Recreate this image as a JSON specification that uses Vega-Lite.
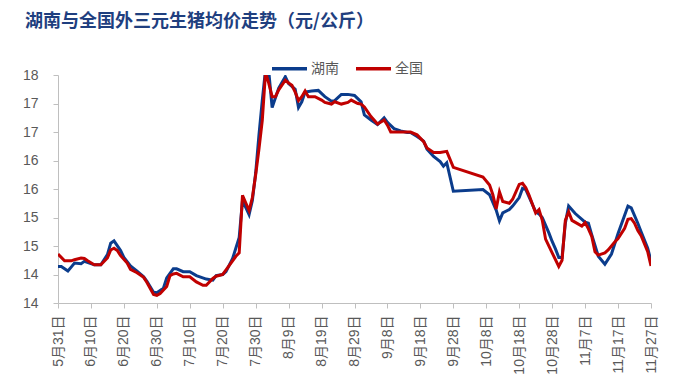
{
  "$schema": "https://vega.github.io/schema/vega-lite/v6.json",
  "width": 593,
  "height": 228,
  "autosize": "none",
  "padding": {"left": 58, "top": 75, "right": 26, "bottom": 87},
  "background": "white",
  "title": {
    "text": "湖南与全国外三元生猪均价走势（元/公斤）",
    "anchor": "start",
    "frame": "group",
    "dx": -33,
    "offset": 0,
    "baseline": "bottom",
    "font": "Noto Sans CJK SC",
    "fontSize": 18,
    "fontWeight": "bold",
    "color": "#1F3F7F"
  },
  "config": {"view": {"stroke": null}},
  "data": {
    "values": [
      {"date": "2023-05-31", "region": "湖南", "price": 14.64},
      {"date": "2023-06-01", "region": "湖南", "price": 14.64},
      {"date": "2023-06-03", "region": "湖南", "price": 14.56},
      {"date": "2023-06-04", "region": "湖南", "price": 14.63},
      {"date": "2023-06-05", "region": "湖南", "price": 14.70},
      {"date": "2023-06-07", "region": "湖南", "price": 14.69},
      {"date": "2023-06-08", "region": "湖南", "price": 14.73},
      {"date": "2023-06-10", "region": "湖南", "price": 14.69},
      {"date": "2023-06-11", "region": "湖南", "price": 14.67},
      {"date": "2023-06-13", "region": "湖南", "price": 14.67},
      {"date": "2023-06-15", "region": "湖南", "price": 14.85},
      {"date": "2023-06-16", "region": "湖南", "price": 15.05},
      {"date": "2023-06-17", "region": "湖南", "price": 15.09},
      {"date": "2023-06-19", "region": "湖南", "price": 14.92},
      {"date": "2023-06-20", "region": "湖南", "price": 14.80},
      {"date": "2023-06-22", "region": "湖南", "price": 14.65},
      {"date": "2023-06-24", "region": "湖南", "price": 14.56},
      {"date": "2023-06-26", "region": "湖南", "price": 14.46},
      {"date": "2023-06-27", "region": "湖南", "price": 14.38},
      {"date": "2023-06-29", "region": "湖南", "price": 14.19},
      {"date": "2023-06-30", "region": "湖南", "price": 14.18},
      {"date": "2023-07-02", "region": "湖南", "price": 14.26},
      {"date": "2023-07-03", "region": "湖南", "price": 14.44},
      {"date": "2023-07-05", "region": "湖南", "price": 14.60},
      {"date": "2023-07-06", "region": "湖南", "price": 14.60},
      {"date": "2023-07-08", "region": "湖南", "price": 14.55},
      {"date": "2023-07-10", "region": "湖南", "price": 14.55},
      {"date": "2023-07-12", "region": "湖南", "price": 14.48},
      {"date": "2023-07-15", "region": "湖南", "price": 14.42},
      {"date": "2023-07-17", "region": "湖南", "price": 14.40},
      {"date": "2023-07-18", "region": "湖南", "price": 14.48},
      {"date": "2023-07-20", "region": "湖南", "price": 14.50},
      {"date": "2023-07-21", "region": "湖南", "price": 14.55},
      {"date": "2023-07-23", "region": "湖南", "price": 14.78},
      {"date": "2023-07-25", "region": "湖南", "price": 15.15},
      {"date": "2023-07-26", "region": "湖南", "price": 15.80},
      {"date": "2023-07-28", "region": "湖南", "price": 15.55},
      {"date": "2023-07-29", "region": "湖南", "price": 15.80},
      {"date": "2023-07-30", "region": "湖南", "price": 16.28},
      {"date": "2023-07-31", "region": "湖南", "price": 16.95},
      {"date": "2023-08-01", "region": "湖南", "price": 17.55},
      {"date": "2023-08-02", "region": "湖南", "price": 18.10},
      {"date": "2023-08-03", "region": "湖南", "price": 18.05},
      {"date": "2023-08-04", "region": "湖南", "price": 17.43},
      {"date": "2023-08-06", "region": "湖南", "price": 17.77},
      {"date": "2023-08-08", "region": "湖南", "price": 17.97},
      {"date": "2023-08-09", "region": "湖南", "price": 17.85},
      {"date": "2023-08-10", "region": "湖南", "price": 17.80},
      {"date": "2023-08-11", "region": "湖南", "price": 17.75},
      {"date": "2023-08-12", "region": "湖南", "price": 17.43},
      {"date": "2023-08-13", "region": "湖南", "price": 17.53},
      {"date": "2023-08-14", "region": "湖南", "price": 17.70},
      {"date": "2023-08-16", "region": "湖南", "price": 17.72},
      {"date": "2023-08-18", "region": "湖南", "price": 17.73},
      {"date": "2023-08-20", "region": "湖南", "price": 17.62},
      {"date": "2023-08-22", "region": "湖南", "price": 17.54},
      {"date": "2023-08-23", "region": "湖南", "price": 17.55},
      {"date": "2023-08-25", "region": "湖南", "price": 17.66},
      {"date": "2023-08-27", "region": "湖南", "price": 17.66},
      {"date": "2023-08-29", "region": "湖南", "price": 17.64},
      {"date": "2023-08-31", "region": "湖南", "price": 17.53},
      {"date": "2023-09-01", "region": "湖南", "price": 17.30},
      {"date": "2023-09-03", "region": "湖南", "price": 17.21},
      {"date": "2023-09-05", "region": "湖南", "price": 17.13},
      {"date": "2023-09-07", "region": "湖南", "price": 17.25},
      {"date": "2023-09-08", "region": "湖南", "price": 17.17},
      {"date": "2023-09-10", "region": "湖南", "price": 17.06},
      {"date": "2023-09-12", "region": "湖南", "price": 17.02},
      {"date": "2023-09-14", "region": "湖南", "price": 16.99},
      {"date": "2023-09-15", "region": "湖南", "price": 16.99},
      {"date": "2023-09-17", "region": "湖南", "price": 16.92},
      {"date": "2023-09-19", "region": "湖南", "price": 16.84},
      {"date": "2023-09-20", "region": "湖南", "price": 16.70},
      {"date": "2023-09-22", "region": "湖南", "price": 16.57},
      {"date": "2023-09-24", "region": "湖南", "price": 16.48},
      {"date": "2023-09-25", "region": "湖南", "price": 16.40},
      {"date": "2023-09-26", "region": "湖南", "price": 16.46},
      {"date": "2023-09-28", "region": "湖南", "price": 15.96},
      {"date": "2023-10-07", "region": "湖南", "price": 15.99},
      {"date": "2023-10-09", "region": "湖南", "price": 15.90},
      {"date": "2023-10-11", "region": "湖南", "price": 15.63},
      {"date": "2023-10-12", "region": "湖南", "price": 15.44},
      {"date": "2023-10-13", "region": "湖南", "price": 15.58},
      {"date": "2023-10-15", "region": "湖南", "price": 15.64},
      {"date": "2023-10-16", "region": "湖南", "price": 15.70},
      {"date": "2023-10-18", "region": "湖南", "price": 15.85},
      {"date": "2023-10-19", "region": "湖南", "price": 16.01},
      {"date": "2023-10-20", "region": "湖南", "price": 15.99},
      {"date": "2023-10-23", "region": "湖南", "price": 15.60},
      {"date": "2023-10-24", "region": "湖南", "price": 15.56},
      {"date": "2023-10-25", "region": "湖南", "price": 15.50},
      {"date": "2023-10-27", "region": "湖南", "price": 15.23},
      {"date": "2023-10-28", "region": "湖南", "price": 15.08},
      {"date": "2023-10-29", "region": "湖南", "price": 14.95},
      {"date": "2023-10-30", "region": "湖南", "price": 14.80},
      {"date": "2023-10-31", "region": "湖南", "price": 14.80},
      {"date": "2023-11-01", "region": "湖南", "price": 15.40},
      {"date": "2023-11-02", "region": "湖南", "price": 15.70},
      {"date": "2023-11-04", "region": "湖南", "price": 15.57},
      {"date": "2023-11-07", "region": "湖南", "price": 15.42},
      {"date": "2023-11-08", "region": "湖南", "price": 15.40},
      {"date": "2023-11-09", "region": "湖南", "price": 15.20},
      {"date": "2023-11-11", "region": "湖南", "price": 14.82},
      {"date": "2023-11-13", "region": "湖南", "price": 14.68},
      {"date": "2023-11-15", "region": "湖南", "price": 14.86},
      {"date": "2023-11-17", "region": "湖南", "price": 15.22},
      {"date": "2023-11-19", "region": "湖南", "price": 15.54},
      {"date": "2023-11-20", "region": "湖南", "price": 15.70},
      {"date": "2023-11-21", "region": "湖南", "price": 15.67},
      {"date": "2023-11-23", "region": "湖南", "price": 15.40},
      {"date": "2023-11-24", "region": "湖南", "price": 15.25},
      {"date": "2023-11-26", "region": "湖南", "price": 14.96},
      {"date": "2023-11-27", "region": "湖南", "price": 14.74},
      {"date": "2023-05-31", "region": "全国", "price": 14.86},
      {"date": "2023-06-02", "region": "全国", "price": 14.74},
      {"date": "2023-06-04", "region": "全国", "price": 14.74},
      {"date": "2023-06-05", "region": "全国", "price": 14.76},
      {"date": "2023-06-07", "region": "全国", "price": 14.79},
      {"date": "2023-06-08", "region": "全国", "price": 14.78},
      {"date": "2023-06-09", "region": "全国", "price": 14.74},
      {"date": "2023-06-11", "region": "全国", "price": 14.67},
      {"date": "2023-06-13", "region": "全国", "price": 14.67},
      {"date": "2023-06-15", "region": "全国", "price": 14.79},
      {"date": "2023-06-16", "region": "全国", "price": 14.93},
      {"date": "2023-06-17", "region": "全国", "price": 14.96},
      {"date": "2023-06-18", "region": "全国", "price": 14.92},
      {"date": "2023-06-19", "region": "全国", "price": 14.83},
      {"date": "2023-06-21", "region": "全国", "price": 14.70},
      {"date": "2023-06-22", "region": "全国", "price": 14.59},
      {"date": "2023-06-24", "region": "全国", "price": 14.53},
      {"date": "2023-06-26", "region": "全国", "price": 14.45},
      {"date": "2023-06-27", "region": "全国", "price": 14.36},
      {"date": "2023-06-29", "region": "全国", "price": 14.15},
      {"date": "2023-06-30", "region": "全国", "price": 14.135},
      {"date": "2023-07-01", "region": "全国", "price": 14.165},
      {"date": "2023-07-03", "region": "全国", "price": 14.29},
      {"date": "2023-07-04", "region": "全国", "price": 14.48},
      {"date": "2023-07-05", "region": "全国", "price": 14.51},
      {"date": "2023-07-06", "region": "全国", "price": 14.52},
      {"date": "2023-07-08", "region": "全国", "price": 14.46},
      {"date": "2023-07-10", "region": "全国", "price": 14.46},
      {"date": "2023-07-12", "region": "全国", "price": 14.37},
      {"date": "2023-07-14", "region": "全国", "price": 14.31},
      {"date": "2023-07-15", "region": "全国", "price": 14.31},
      {"date": "2023-07-17", "region": "全国", "price": 14.43},
      {"date": "2023-07-18", "region": "全国", "price": 14.47},
      {"date": "2023-07-20", "region": "全国", "price": 14.50},
      {"date": "2023-07-22", "region": "全国", "price": 14.66},
      {"date": "2023-07-24", "region": "全国", "price": 14.82},
      {"date": "2023-07-25", "region": "全国", "price": 14.88},
      {"date": "2023-07-26", "region": "全国", "price": 15.89},
      {"date": "2023-07-28", "region": "全国", "price": 15.62},
      {"date": "2023-07-29", "region": "全国", "price": 15.85},
      {"date": "2023-07-30", "region": "全国", "price": 16.25},
      {"date": "2023-07-31", "region": "全国", "price": 16.70},
      {"date": "2023-08-01", "region": "全国", "price": 17.20},
      {"date": "2023-08-02", "region": "全国", "price": 18.05},
      {"date": "2023-08-03", "region": "全国", "price": 17.85},
      {"date": "2023-08-04", "region": "全国", "price": 17.62},
      {"date": "2023-08-05", "region": "全国", "price": 17.62},
      {"date": "2023-08-06", "region": "全国", "price": 17.74},
      {"date": "2023-08-08", "region": "全国", "price": 17.91},
      {"date": "2023-08-09", "region": "全国", "price": 17.86},
      {"date": "2023-08-10", "region": "全国", "price": 17.82},
      {"date": "2023-08-11", "region": "全国", "price": 17.70},
      {"date": "2023-08-12", "region": "全国", "price": 17.55},
      {"date": "2023-08-13", "region": "全国", "price": 17.62},
      {"date": "2023-08-14", "region": "全国", "price": 17.72},
      {"date": "2023-08-15", "region": "全国", "price": 17.62},
      {"date": "2023-08-17", "region": "全国", "price": 17.62},
      {"date": "2023-08-19", "region": "全国", "price": 17.56},
      {"date": "2023-08-20", "region": "全国", "price": 17.52},
      {"date": "2023-08-22", "region": "全国", "price": 17.49},
      {"date": "2023-08-23", "region": "全国", "price": 17.53},
      {"date": "2023-08-25", "region": "全国", "price": 17.49},
      {"date": "2023-08-27", "region": "全国", "price": 17.52},
      {"date": "2023-08-28", "region": "全国", "price": 17.56},
      {"date": "2023-08-30", "region": "全国", "price": 17.50},
      {"date": "2023-08-31", "region": "全国", "price": 17.49},
      {"date": "2023-09-01", "region": "全国", "price": 17.44},
      {"date": "2023-09-03", "region": "全国", "price": 17.27},
      {"date": "2023-09-05", "region": "全国", "price": 17.14},
      {"date": "2023-09-07", "region": "全国", "price": 17.21},
      {"date": "2023-09-08", "region": "全国", "price": 17.12},
      {"date": "2023-09-09", "region": "全国", "price": 17.00},
      {"date": "2023-09-12", "region": "全国", "price": 17.00},
      {"date": "2023-09-15", "region": "全国", "price": 17.00},
      {"date": "2023-09-17", "region": "全国", "price": 16.95},
      {"date": "2023-09-19", "region": "全国", "price": 16.83},
      {"date": "2023-09-20", "region": "全国", "price": 16.72},
      {"date": "2023-09-22", "region": "全国", "price": 16.64},
      {"date": "2023-09-24", "region": "全国", "price": 16.64},
      {"date": "2023-09-26", "region": "全国", "price": 16.66},
      {"date": "2023-09-28", "region": "全国", "price": 16.38},
      {"date": "2023-10-07", "region": "全国", "price": 16.21},
      {"date": "2023-10-09", "region": "全国", "price": 16.07},
      {"date": "2023-10-10", "region": "全国", "price": 15.90},
      {"date": "2023-10-11", "region": "全国", "price": 15.65},
      {"date": "2023-10-12", "region": "全国", "price": 15.95},
      {"date": "2023-10-13", "region": "全国", "price": 15.78},
      {"date": "2023-10-15", "region": "全国", "price": 15.75},
      {"date": "2023-10-16", "region": "全国", "price": 15.82},
      {"date": "2023-10-18", "region": "全国", "price": 16.08},
      {"date": "2023-10-19", "region": "全国", "price": 16.10},
      {"date": "2023-10-20", "region": "全国", "price": 16.02},
      {"date": "2023-10-21", "region": "全国", "price": 15.89},
      {"date": "2023-10-23", "region": "全国", "price": 15.58},
      {"date": "2023-10-24", "region": "全国", "price": 15.64},
      {"date": "2023-10-25", "region": "全国", "price": 15.45},
      {"date": "2023-10-26", "region": "全国", "price": 15.12},
      {"date": "2023-10-28", "region": "全国", "price": 14.88},
      {"date": "2023-10-30", "region": "全国", "price": 14.64},
      {"date": "2023-10-31", "region": "全国", "price": 14.75},
      {"date": "2023-11-01", "region": "全国", "price": 15.45},
      {"date": "2023-11-02", "region": "全国", "price": 15.60},
      {"date": "2023-11-03", "region": "全国", "price": 15.45},
      {"date": "2023-11-06", "region": "全国", "price": 15.35},
      {"date": "2023-11-07", "region": "全国", "price": 15.41},
      {"date": "2023-11-08", "region": "全国", "price": 15.30},
      {"date": "2023-11-09", "region": "全国", "price": 15.17},
      {"date": "2023-11-10", "region": "全国", "price": 14.90},
      {"date": "2023-11-11", "region": "全国", "price": 14.84},
      {"date": "2023-11-13", "region": "全国", "price": 14.88},
      {"date": "2023-11-14", "region": "全国", "price": 14.93},
      {"date": "2023-11-16", "region": "全国", "price": 15.07},
      {"date": "2023-11-17", "region": "全国", "price": 15.13},
      {"date": "2023-11-19", "region": "全国", "price": 15.31},
      {"date": "2023-11-20", "region": "全国", "price": 15.47},
      {"date": "2023-11-21", "region": "全国", "price": 15.48},
      {"date": "2023-11-22", "region": "全国", "price": 15.40},
      {"date": "2023-11-23", "region": "全国", "price": 15.27},
      {"date": "2023-11-24", "region": "全国", "price": 15.18},
      {"date": "2023-11-26", "region": "全国", "price": 14.90},
      {"date": "2023-11-27", "region": "全国", "price": 14.65}
    ]
  },
  "mark": {"type": "line", "strokeWidth": 3, "clip": true},
  "encoding": {
    "x": {
      "field": "date",
      "type": "temporal",
      "scale": {
        "type": "utc",
        "domain": [
          {"year": 2023, "month": 5, "date": 31, "utc": true},
          {"year": 2023, "month": 11, "date": 27, "utc": true}
        ]
      },
      "axis": {
        "title": null,
        "grid": false,
        "values": [
          {"year": 2023, "month": 5, "date": 31, "utc": true},
          {"year": 2023, "month": 6, "date": 10, "utc": true},
          {"year": 2023, "month": 6, "date": 20, "utc": true},
          {"year": 2023, "month": 6, "date": 30, "utc": true},
          {"year": 2023, "month": 7, "date": 10, "utc": true},
          {"year": 2023, "month": 7, "date": 20, "utc": true},
          {"year": 2023, "month": 7, "date": 30, "utc": true},
          {"year": 2023, "month": 8, "date": 9, "utc": true},
          {"year": 2023, "month": 8, "date": 19, "utc": true},
          {"year": 2023, "month": 8, "date": 29, "utc": true},
          {"year": 2023, "month": 9, "date": 8, "utc": true},
          {"year": 2023, "month": 9, "date": 18, "utc": true},
          {"year": 2023, "month": 9, "date": 28, "utc": true},
          {"year": 2023, "month": 10, "date": 8, "utc": true},
          {"year": 2023, "month": 10, "date": 18, "utc": true},
          {"year": 2023, "month": 10, "date": 28, "utc": true},
          {"year": 2023, "month": 11, "date": 7, "utc": true},
          {"year": 2023, "month": 11, "date": 17, "utc": true},
          {"year": 2023, "month": 11, "date": 27, "utc": true}
        ],
        "labelExpr": "utcFormat(datum.value, '%-m月%-d日')",
        "labelAngle": -90,
        "labelFont": "Liberation Sans, Noto Sans CJK SC",
        "labelFontSize": 14,
        "labelColor": "#595959",
        "labelPadding": 7,
        "labelOverlap": false,
        "domainColor": "#BFBFBF",
        "tickColor": "#BFBFBF",
        "tickSize": 5
      }
    },
    "y": {
      "field": "price",
      "type": "quantitative",
      "scale": {"domain": [14, 18], "nice": false, "zero": false},
      "axis": {
        "title": null,
        "grid": false,
        "values": [14, 14.5, 15, 15.5, 16, 16.5, 17, 17.5, 18],
        "labelExpr": "floor(datum.value)",
        "labelFont": "Liberation Sans",
        "labelFontSize": 14,
        "labelColor": "#595959",
        "labelPadding": 15,
        "domainColor": "#BFBFBF",
        "tickColor": "#BFBFBF",
        "tickSize": 5
      }
    },
    "color": {
      "field": "region",
      "type": "nominal",
      "scale": {"domain": ["湖南", "全国"], "range": ["#0B3C8C", "#C00000"]},
      "legend": {
        "title": null,
        "orient": "none",
        "direction": "horizontal",
        "legendX": 212,
        "legendY": -26,
        "symbolType": "stroke",
        "symbolSize": 1225,
        "symbolStrokeWidth": 3.5,
        "labelFont": "Noto Sans CJK SC",
        "labelFontSize": 14,
        "labelColor": "#595959",
        "labelOffset": 2,
        "columnPadding": 10
      }
    }
  }
}
